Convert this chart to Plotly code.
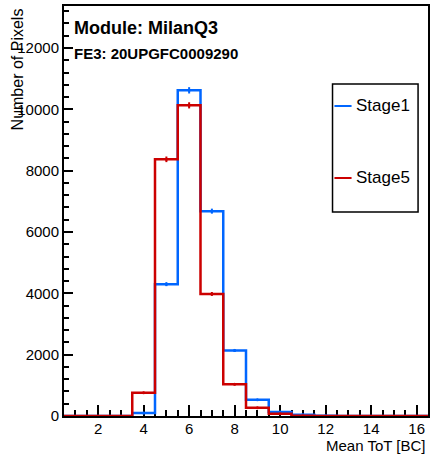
import numpy as np
import plotly.graph_objects as go

# bin centres (Mean ToT), one bin per integer from 1 to 16
tot_bins = list(range(1, 17))
stage1 = [0, 0, 0, 100, 4300, 10620, 6680, 2140, 530, 130, 40, 5, 0, 0, 0, 0]
stage5 = [0, 0, 0, 760, 8370, 10130, 3980, 1035, 270, 70, 10, 0, 0, 0, 0, 0]

series = [("Stage1", stage1, "rgb(0,102,255)"), ("Stage5", stage5, "rgb(204,0,0)")]

fig = go.Figure()
for i, (name, vals, col) in enumerate(series):
    edges = [b - 0.5 for b in tot_bins] + [tot_bins[-1] + 0.5]
    fig.add_trace(go.Scatter(x=edges, y=vals + [vals[-1]], mode="lines", name=name,
                             line=dict(color=col, width=2.5, shape="hv"), cliponaxis=False,
                             showlegend=False))
    xs = [b for b, v in zip(tot_bins, vals) if v > 0]
    ys = [v for v in vals if v > 0]
    fig.add_trace(go.Scatter(x=xs, y=ys, mode="markers", showlegend=False,
                             marker=dict(color=col, size=3),
                             error_y=dict(type="data", array=np.sqrt(ys), color=col,
                                          thickness=2, width=0)))

fnt = "Liberation Sans, Arial, sans-serif"
fig.update_layout(
    width=434, height=455,
    margin=dict(l=64, r=4, t=6, b=39),
    paper_bgcolor="white", plot_bgcolor="white",
    font=dict(family=fnt, size=15, color="black"),
    showlegend=False,
    xaxis=dict(range=[0.5, 16.5], tick0=0, dtick=2, ticks="inside", ticklen=11,
               tickwidth=2, tickcolor="black", showline=True, linecolor="black",
               linewidth=2, mirror=True, showgrid=False, zeroline=False,
               layer="below traces", ticklabelstandoff=-2,
               minor=dict(dtick=0.5, ticks="inside", ticklen=6, tickwidth=2,
                          tickcolor="black", showgrid=False)),
    yaxis=dict(range=[0, 13370], tick0=0, dtick=2000, ticks="inside", ticklen=9,
               tickwidth=2, tickcolor="black", showline=True, linecolor="black",
               linewidth=2, mirror=True, showgrid=False, zeroline=False,
               layer="below traces", tickformat="d",
               minor=dict(dtick=400, ticks="inside", ticklen=5, tickwidth=2,
                          tickcolor="black", showgrid=False)),
)

# legend box drawn by hand (ROOT-style TLegend)
fig.add_shape(type="rect", xref="paper", yref="paper", x0=0.7377, x1=0.9727,
              y0=0.4976, y1=0.8098, line=dict(color="black", width=1.5),
              fillcolor="white")
leg_y = [0.7561, 0.5805]
for (name, vals, col), ly in zip(series, leg_y):
    fig.add_shape(type="line", xref="paper", yref="paper", x0=0.743, x1=0.790,
                  y0=ly, y1=ly, line=dict(color=col, width=2))
    fig.add_annotation(text=name, xref="paper", yref="paper", x=0.796, y=ly,
                       xanchor="left", yanchor="middle", showarrow=False,
                       font=dict(size=17))

fig.add_annotation(text="<b>Module: MilanQ3</b>", xref="paper", yref="paper",
                   x=0.022, y=0.946, xanchor="left", yanchor="middle",
                   showarrow=False, font=dict(size=18))
fig.add_annotation(text="<b>FE3: 20UPGFC0009290</b>", xref="paper", yref="paper",
                   x=0.022, y=0.885, xanchor="left", yanchor="middle",
                   showarrow=False, font=dict(size=15))
fig.add_annotation(text="Number of Pixels", xref="paper", yref="paper",
                   x=-0.128, y=1.0, xanchor="center", yanchor="top", textangle=-90,
                   showarrow=False, font=dict(size=16))
fig.add_annotation(text="Mean ToT [BC]", xref="paper", yref="paper",
                   x=1.0, y=-0.0725, xanchor="right", yanchor="middle",
                   showarrow=False, font=dict(size=15))

fig.write_html("out.html", config={"displayModeBar": False},
               post_script="document.body.style.margin='0';")
